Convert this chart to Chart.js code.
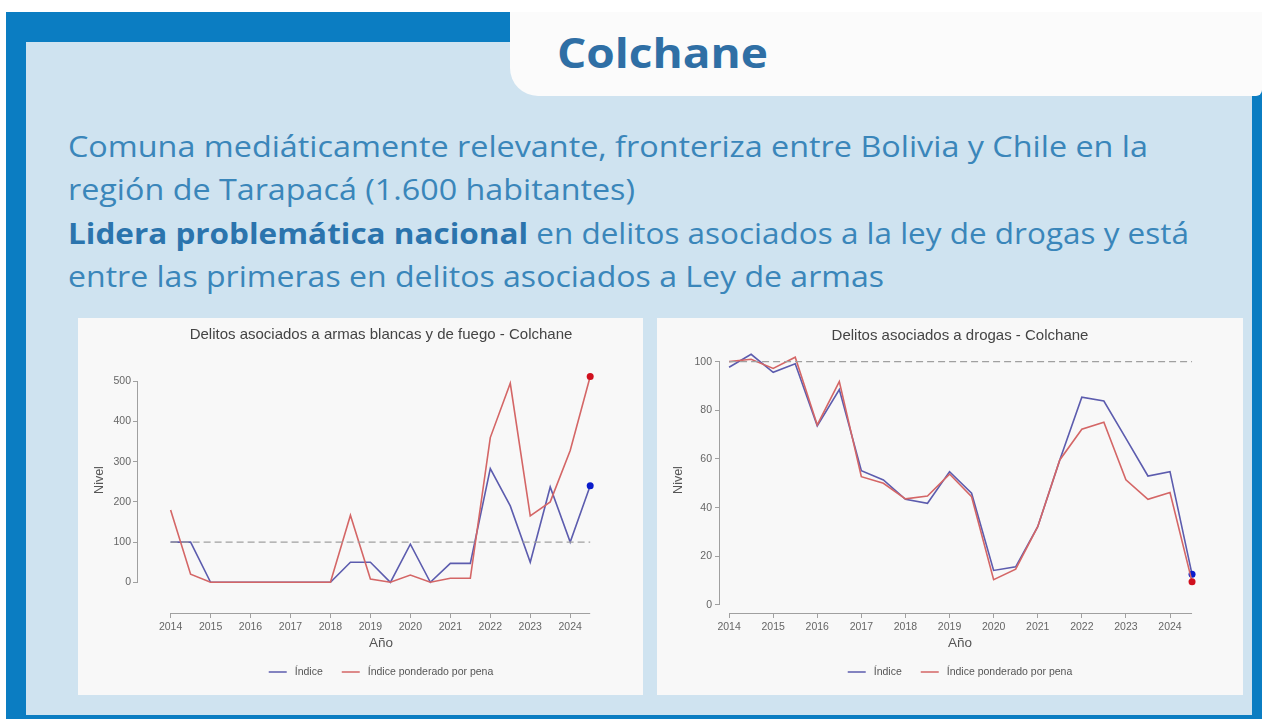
<!DOCTYPE html>
<html>
<head>
<meta charset="utf-8">
<script src="https://cdn.jsdelivr.net/npm/chart.js@4.4.1/dist/chart.umd.min.js"></script>
<style>
body{margin:0;width:1262px;height:719px;background:#fff;position:relative;overflow:hidden;font-family:"Open Sans",sans-serif}
.frame{position:absolute;left:6px;top:12px;width:1256px;height:707px;background:#0b7dc2}
.inner{position:absolute;left:26px;top:42px;width:1226px;height:673px;background:#cfe3f0}
.tab{position:absolute;left:510px;top:12px;width:752px;height:84px;background:#fbfbfb;border-bottom-left-radius:28px;border-bottom-right-radius:6px}
.txt{position:absolute;white-space:nowrap;line-height:1;transform-origin:0 0;color:#3a86ba}
.head{font-weight:700;font-size:42px;color:#2f6fa5}
.body{font-size:29px}
.body b{color:#2b74ad}
.panel{position:absolute;top:318px;height:377px;background:#f8f8f8}
</style>
</head>
<body>
<div class="frame"></div>
<div class="inner"></div>
<div class="tab"></div>
<div class="txt head" id="t0" style="left:557px;top:31px" data-w="211">Colchane</div>
<div class="txt body" id="t1" style="left:68px;top:131px" data-w="1080">Comuna mediáticamente relevante, fronteriza entre Bolivia y Chile en la</div>
<div class="txt body" id="t2" style="left:68px;top:174px" data-w="567">región de Tarapacá (1.600 habitantes)</div>
<div class="txt body" id="t3" style="left:68px;top:218px" data-w="1121"><b>Lidera problemática nacional</b> en delitos asociados a la ley de drogas y está</div>
<div class="txt body" id="t4" style="left:68px;top:261px" data-w="816">entre las primeras en delitos asociados a Ley de armas</div>

<div class="panel" style="left:78px;width:565px"><canvas id="armas" width="565" height="377"></canvas></div>
<div class="panel" style="left:657px;width:586px"><canvas id="drogas" width="586" height="377"></canvas></div>

<script>
// semesters, 2014-I to 2024-I
const semesters = [2014,2014.5,2015,2015.5,2016,2016.5,2017,2017.5,2018,2018.5,2019,2019.5,2020,2020.5,2021,2021.5,2022,2022.5,2023,2023.5,2024,2024.5]
const yearTicks = [2014,2015,2016,2017,2018,2019,2020,2021,2022,2023,2024]
const baseLevel = 100

const armasIndice = [100,100,0,0,0,0,0,0,0,50,50,0,95,0,47,47,283,190,50,237,100,240]
const armasPonderado = [180,20,0,0,0,0,0,0,0,167,8,0,18,0,10,10,360,495,165,200,328,512]
const armasTicks = [0,100,200,300,400,500]

const drogasIndice = [97.7,103,95.6,99.1,73.6,88.5,55.2,51.4,43.4,41.8,54.8,45.9,14.2,15.7,32.2,59.6,85.4,83.8,68.5,53,54.8,12.6]
const drogasPonderado = [100,101,97.2,101.8,74,91.8,52.7,50,43.6,44.8,53.8,44.5,10.4,14.7,32.2,59.6,72.2,75.1,51.4,43.4,46.2,9.6]
const drogasTicks = [0,20,40,60,80,100]

const legendLabels = ["Índice","Índice ponderado por pena"]
const lineColors = ["#5c5cae","#d46666"]
const dotColors = ["#0a1ccb","#d0101e"]

const FONT = '"Liberation Sans", Arial, sans-serif'

// draws the R-like decorations: title, axis lines, axis titles and legend
const rStyle = {
  id:'rStyle',
  afterDraw(chart, args, o){
    const {ctx, chartArea, scales} = chart
    const x = scales.x, y = scales.y
    ctx.save()
    ctx.strokeStyle = '#a0a0a0'
    ctx.lineWidth = 1
    ctx.beginPath()
    let yb = Math.round(chartArea.bottom) + 0.5
    ctx.moveTo(x.getPixelForValue(semesters[0]), yb)
    ctx.lineTo(x.getPixelForValue(semesters[semesters.length-1]), yb)
    let xl = Math.round(chartArea.left) - 0.5
    ctx.moveTo(xl, y.getPixelForValue(o.yTicks[0]))
    ctx.lineTo(xl, y.getPixelForValue(o.yTicks[o.yTicks.length-1]))
    ctx.stroke()

    ctx.fillStyle = '#444'
    ctx.textAlign = 'center'
    ctx.textBaseline = 'middle'
    ctx.font = '15px ' + FONT
    ctx.fillText(o.title, o.titleX, o.titleY)
    ctx.font = '13.5px ' + FONT
    ctx.fillStyle = '#555'
    ctx.fillText('Año', o.titleX, o.anoY)
    ctx.save()
    ctx.translate(o.nivelX, o.nivelY)
    ctx.rotate(-Math.PI/2)
    ctx.font = '12.5px ' + FONT
    ctx.fillText('Nivel', 0, 0)
    ctx.restore()

    // legend
    ctx.font = '10.5px ' + FONT
    const sample = 18, gap = 8, itemGap = 19
    let widths = legendLabels.map(t => ctx.measureText(t).width)
    let total = widths.reduce((a,b)=>a+b,0) + legendLabels.length*(sample+gap) + itemGap*(legendLabels.length-1)
    let cx = o.titleX - total/2
    ctx.textAlign = 'left'
    legendLabels.forEach((t,i)=>{
      ctx.strokeStyle = lineColors[i]
      ctx.lineWidth = 1.5
      ctx.beginPath()
      ctx.moveTo(cx, o.legendY)
      ctx.lineTo(cx+sample, o.legendY)
      ctx.stroke()
      ctx.fillStyle = '#555'
      ctx.fillText(t, cx+sample+gap, o.legendY)
      cx += sample + gap + widths[i] + itemGap
    })
    ctx.restore()
  }
}

function series(vals, i){
  let last = vals.length-1
  return {
    label: legendLabels[i],
    data: semesters.map((s,k)=>({x:s, y:vals[k]})),
    borderColor: lineColors[i],
    backgroundColor: dotColors[i],
    borderWidth: 1.6,
    pointRadius: c => c.dataIndex === last ? 3.5 : 0,
    pointBorderWidth: 0,
    pointBackgroundColor: dotColors[i]
  }
}

function axis(min, max, ticks, size, pad){
  return {
    type:'linear', min:min, max:max,
    afterBuildTicks: s => { s.ticks = ticks.map(v=>({value:v})) },
    afterFit: s => {
      if(s.isHorizontal()) s.height = size; else s.width = size
      s.paddingLeft = 0; s.paddingRight = 0; s.paddingTop = 0; s.paddingBottom = 0
    },
    grid:{display:true, drawOnChartArea:false, drawTicks:true, tickLength:5, color:'#a0a0a0'},
    border:{display:false},
    ticks:{font:{family:FONT, size:10.5}, color:'#666', padding:pad, maxRotation:0, autoSkip:false, callback: v => String(v)}
  }
}

function makeChart(id, ind, pond, yTicks, xr, yr, padding, yWidth, yPad, deco){
  return new Chart(document.getElementById(id), {
    type:'line',
    data:{datasets:[
      {label:'base', data:[{x:semesters[0], y:baseLevel},{x:semesters[semesters.length-1], y:baseLevel}],
       borderColor:'#a0a0a0', borderWidth:1.3, borderDash:[7,4], pointRadius:0},
      series(pond,1),
      series(ind,0)
    ]},
    options:{
      responsive:false, animation:false, devicePixelRatio:1,
      layout:{padding:padding},
      elements:{line:{tension:0}},
      plugins:{legend:{display:false}, tooltip:{enabled:false}, title:{display:false}, rStyle:Object.assign({yTicks:yTicks}, deco)},
      scales:{
        x: axis(xr[0], xr[1], yearTicks, 30, 3),
        y: axis(yr[0], yr[1], yTicks, yWidth, yPad)
      }
    },
    plugins:[rStyle]
  })
}

makeChart('armas', armasIndice, armasPonderado, armasTicks,
  [2013.184, 2025.196], [-76.4, 558.0],
  {left:20, right:25, top:40, bottom:52}, 40, 2,
  {title:'Delitos asociados a armas blancas y de fuego - Colchane', titleX:303, titleY:17, anoY:325, nivelX:22, nivelY:162, legendY:354})

makeChart('drogas', drogasIndice, drogasPonderado, drogasTicks,
  [2013.794, 2025.202], [-3.29, 105.6],
  {left:23, right:20, top:30, bottom:52}, 40, 3,
  {title:'Delitos asociados a drogas - Colchane', titleX:303, titleY:18, anoY:325, nivelX:22, nivelY:162, legendY:354})

// squeeze slide text to the widths seen in the picture
document.fonts.ready.then(()=>{
  document.querySelectorAll('.txt').forEach(el=>{
    let w = el.getBoundingClientRect().width
    el.style.transform = 'scaleX(' + (Number(el.dataset.w)/w) + ')'
  })
})
</script>
</body>
</html>
